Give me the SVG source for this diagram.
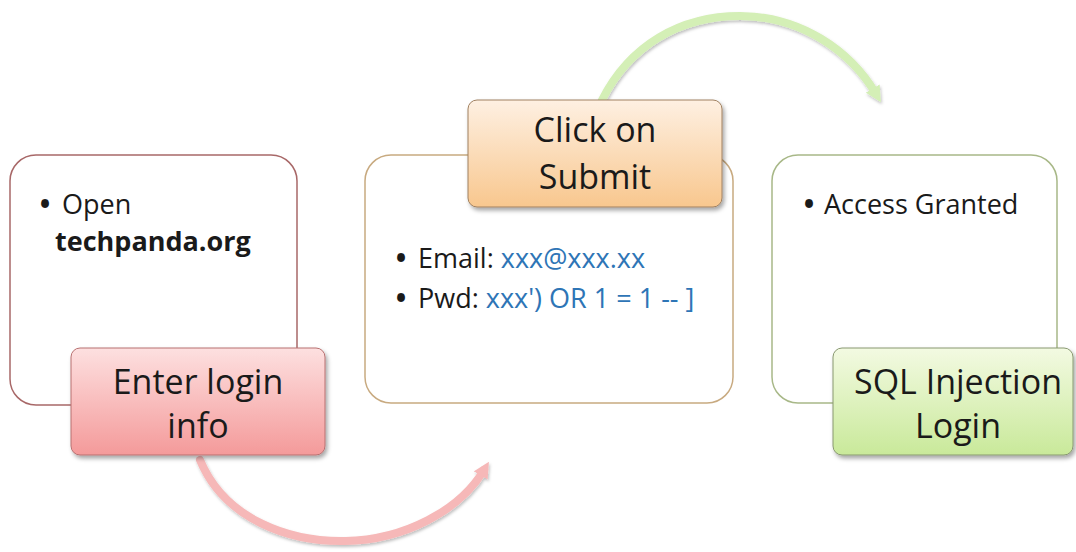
<svg xmlns="http://www.w3.org/2000/svg" width="1076" height="552" viewBox="0 0 1076 552">
<style>
.card{fill:#fff;stroke-width:1.5}
.title{font-family:"Open Sans","Noto Sans",sans-serif;font-size:34px;fill:#1a1a1a;text-anchor:middle}
.body{font-family:"Open Sans","Noto Sans",sans-serif;font-size:27px;fill:#1a1a1a}
.bul{font-family:"Open Sans","Noto Sans",sans-serif;font-size:28px;font-weight:bold;fill:#1a1a1a;text-anchor:middle}
.blue{fill:#2e75b6}
.arc{fill:none;stroke-width:8;stroke-linecap:round}
</style>
<defs>
<filter id="sh" x="-10%" y="-10%" width="130%" height="140%">
<feDropShadow dx="2" dy="3" stdDeviation="2" flood-color="#000" flood-opacity="0.35"/>
</filter>
<filter id="ash" x="-10%" y="-10%" width="130%" height="140%">
<feDropShadow dx="1" dy="2" stdDeviation="1.5" flood-color="#000" flood-opacity="0.25"/>
</filter>
<linearGradient id="gp" x1="0" y1="0" x2="0" y2="1"><stop offset="0" stop-color="#fde0e0"/><stop offset="1" stop-color="#f49a9a"/></linearGradient>
<linearGradient id="go" x1="0" y1="0" x2="0" y2="1"><stop offset="0" stop-color="#fef0e2"/><stop offset="1" stop-color="#f8c78e"/></linearGradient>
<linearGradient id="gg" x1="0" y1="0" x2="0" y2="1"><stop offset="0" stop-color="#f3fae2"/><stop offset="1" stop-color="#c9e99a"/></linearGradient>
<marker id="mp" viewBox="0 0 10 10" refX="4" refY="5" markerWidth="2" markerHeight="2" orient="auto"><path d="M0,0 L10,5 L0,10 z" fill="#f6b8b8"/></marker>
<marker id="mg" viewBox="0 0 10 10" refX="4" refY="5" markerWidth="2" markerHeight="2" orient="auto"><path d="M0,0 L10,5 L0,10 z" fill="#d4efb6"/></marker>
</defs>
<rect width="1076" height="552" fill="#fff"/>
<g id="connectors">
<path class="arc" d="M200,460 C225,520 290,542 345,541 C405,540 460,510 484,470" stroke="#f6b8b8" filter="url(#ash)" marker-end="url(#mp)"/>
<path class="arc" d="M602,100 C630,45 680,16 740,16 C800,16 850,50 876,94" stroke="#d4efb6" filter="url(#ash)" marker-end="url(#mg)"/>
</g>
<g id="step1">
<rect class="card" x="10" y="155" width="287" height="250" rx="26" stroke="#a86868"/>
<text class="bul" x="45" y="214">•</text>
<text class="body" x="62" y="214">Open</text>
<text class="body" x="55" y="251" font-weight="bold" font-size="25">techpanda.org</text>
<rect x="71" y="348" width="254" height="107" rx="9" fill="url(#gp)" stroke="#b87070" stroke-width="1" filter="url(#sh)"/>
<text class="title" x="198" y="394">Enter login</text>
<text class="title" x="198" y="438">info</text>
</g>
<g id="step2">
<rect class="card" x="365" y="155" width="368" height="248" rx="26" stroke="#c8aa80"/>
<rect x="468" y="100" width="254" height="107" rx="9" fill="url(#go)" stroke="#a08060" stroke-width="1" filter="url(#sh)"/>
<text class="title" x="595" y="142">Click on</text>
<text class="title" x="595" y="189">Submit</text>
<text class="bul" x="401" y="268">•</text>
<text class="body" x="418" y="268">Email: <tspan class="blue">xxx@xxx.xx</tspan></text>
<text class="bul" x="401" y="308">•</text>
<text class="body" x="418" y="308">Pwd: <tspan class="blue">xxx') OR 1 = 1 -- ]</tspan></text>
</g>
<g id="step3">
<rect class="card" x="772" y="155" width="285" height="248" rx="26" stroke="#a8b888"/>
<text class="bul" x="809" y="214">•</text>
<text class="body" x="824" y="214">Access Granted</text>
<rect x="833" y="348" width="240" height="107" rx="9" fill="url(#gg)" stroke="#889870" stroke-width="1" filter="url(#sh)"/>
<text class="title" x="958" y="394">SQL Injection</text>
<text class="title" x="958" y="438">Login</text>
</g>
</svg>
